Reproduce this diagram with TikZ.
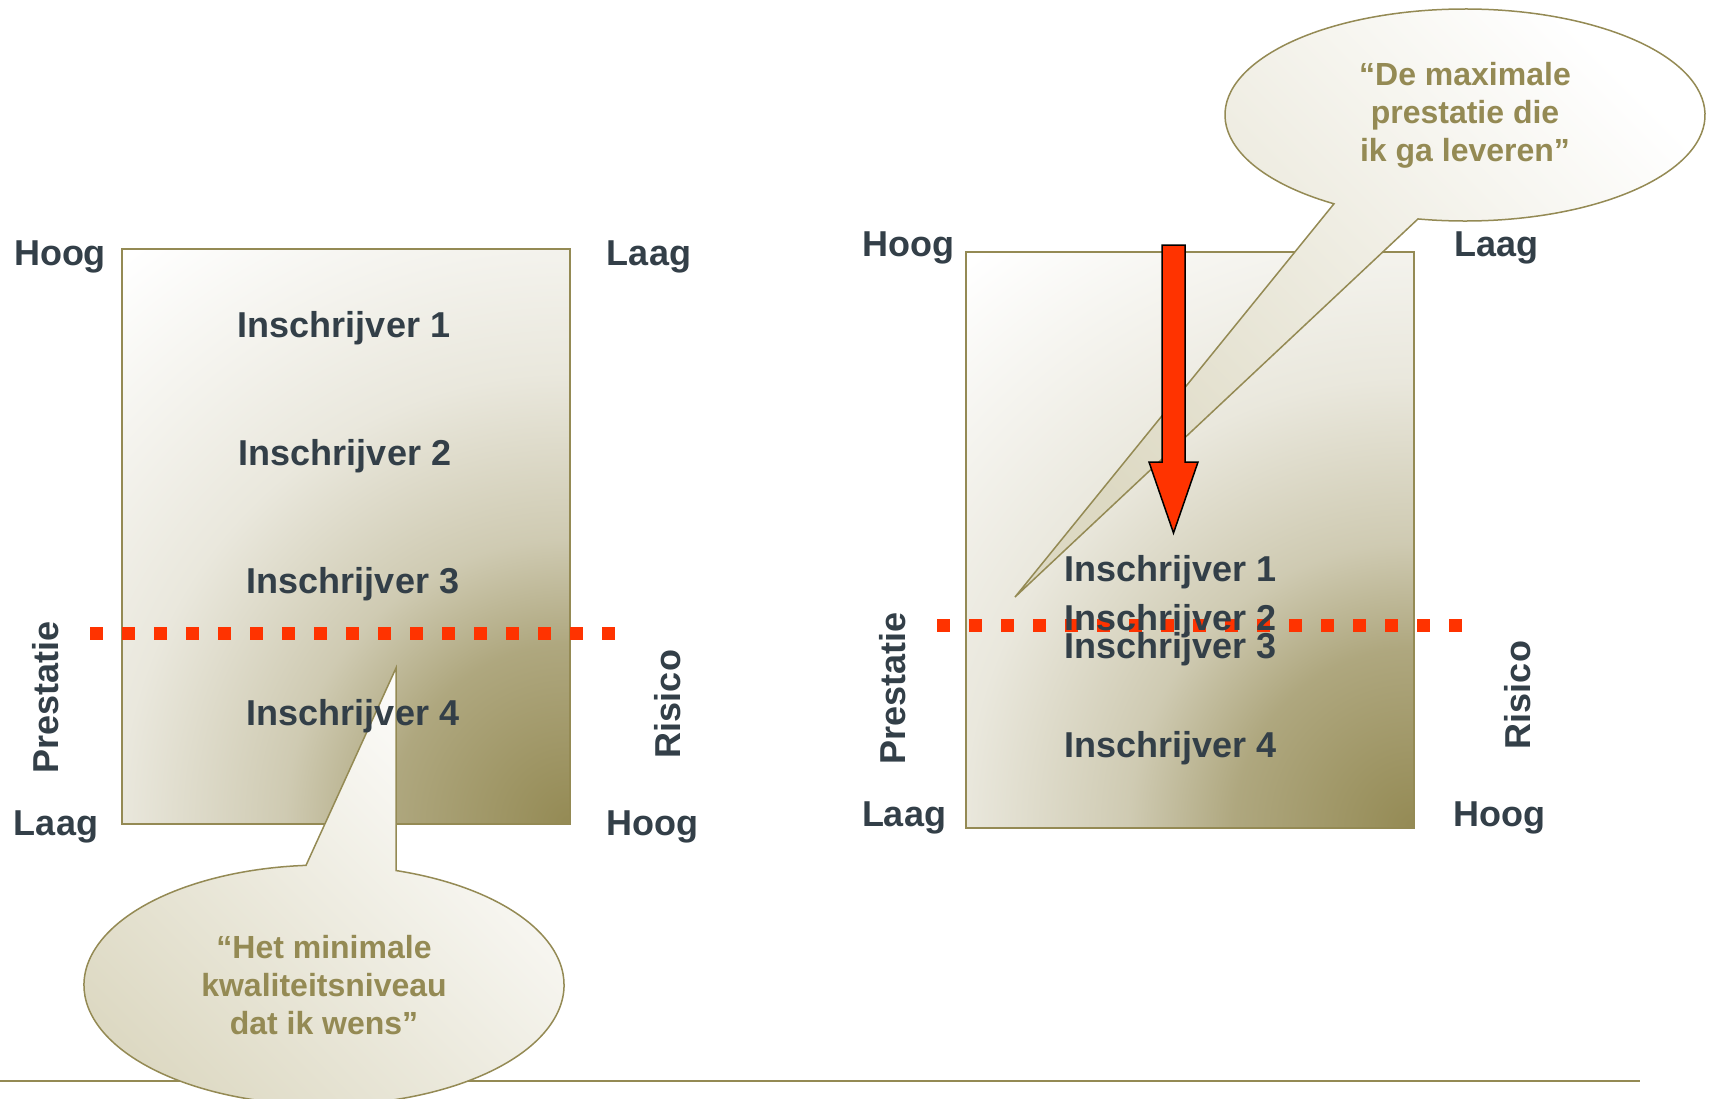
\documentclass[tikz,border=0pt]{standalone}
\usepackage{fontspec}
\setmainfont{Liberation Sans}
\usetikzlibrary{positioning,calc}
\definecolor{olivegold}{HTML}{948A54}
\definecolor{sandbeige}{HTML}{DDD9C3}
\definecolor{slatetext}{HTML}{333F48}
\definecolor{signalred}{HTML}{FF3300}

% glow from the lower right corner of a box
\pgfdeclareradialshading{cornerglow}{\pgfpoint{0bp}{0bp}}{%
  color(0bp)=(olivegold);
  color(6bp)=(olivegold!75!white);
  color(9.5bp)=(olivegold!45!white);
  color(15bp)=(olivegold!20!white);
  color(19bp)=(olivegold!11!white);
  color(24bp)=(white);
  color(50bp)=(white)}

\tikzset{
  bidder/.style={font=\fontsize{36}{43}\selectfont\bfseries, text=slatetext, inner sep=0pt},
  axistxt/.style={bidder, rotate=90},
  quote/.style={font=\fontsize{32}{38}\selectfont\bfseries, text=olivegold, align=center, inner sep=0pt},
  cutoff/.style={signalred, line width=13pt, dash pattern=on 13pt off 19pt},
  callout/.style={draw=olivegold, line width=1.5pt, top color=white, bottom color=sandbeige, shading angle=-45}
}

% shaded box, dark in the lower right corner
\newcommand{\riskbox}[2]{%
  \begin{scope}
    \clip (#1) rectangle (#2);
    \shade[shading=cornerglow] (#2) circle[radius=750pt];
  \end{scope}
  \draw[olivegold, line width=2pt] (#1) rectangle (#2);
}

\begin{document}
\begin{tikzpicture}[x=1pt,y=-1pt]
  \useasboundingbox (0,0) rectangle (1712,1098);

  % bottom rule
  \coordinate (ruleA) at (0,1081);
  \coordinate (ruleB) at (1640,1081);
  \draw[olivegold, line width=1.5pt] (ruleA) -- (ruleB);

  % ---------- left panel ----------
  \coordinate (boxLnw) at (122,249);
  \coordinate (boxLse) at (570,824);
  \riskbox{boxLnw}{boxLse}

  \coordinate (quoteL) at (324,985);
  \coordinate (tipL) at (396,668);
  \shadedraw[callout] (quoteL) ++(72.5:240pt and 120pt)
    arc[start angle=72.5, end angle=-265.7, x radius=240pt, y radius=120pt]
    -- (tipL) -- cycle;
  \node[quote] (wishL) at (quoteL) {“Het minimale\\kwaliteitsniveau\\dat ik wens”};

  \coordinate (cutLa) at (90,633);
  \coordinate (cutLb) at (617,633);
  \draw[cutoff] (cutLa) -- (cutLb);

  \node[bidder, anchor=base] (insL1) at (344,337) {Inschrijver 1};
  \node[bidder, anchor=base] (insL2) at (345,465) {Inschrijver 2};
  \node[bidder, anchor=base] (insL3) at (353,593) {Inschrijver 3};
  \node[bidder, anchor=base] (insL4) at (353,725) {Inschrijver 4};

  \node[bidder, anchor=base] (hoogLt) at (60,265) {Hoog};
  \node[bidder, anchor=base] (laagLt) at (649,265) {Laag};
  \node[bidder, anchor=base] (laagLb) at (56,835) {Laag};
  \node[bidder, anchor=base] (hoogLb) at (652,835) {Hoog};
  \node[axistxt] (prestL) at (46,697) {Prestatie};
  \node[axistxt] (risL) at (668,704) {Risico};

  % ---------- right panel ----------
  \coordinate (boxRnw) at (966,252);
  \coordinate (boxRse) at (1414,828);
  \riskbox{boxRnw}{boxRse}

  \coordinate (quoteR) at (1465,115);
  \coordinate (tipR) at (1015,597);
  \shadedraw[callout] (quoteR) ++(236.9:240pt and 106pt)
    arc[start angle=236.9, end angle=-101.3, x radius=240pt, y radius=106pt]
    -- (tipR) -- cycle;
  \node[quote] (maxR) at (quoteR) {“De maximale\\prestatie die\\ik ga leveren”};

  % downward arrow
  \filldraw[fill=signalred, draw=black, line width=1.5pt]
    (1162,245) -- (1185,245) -- (1185,462) -- (1198,462) -- (1173.5,533)
    -- (1149,462) -- (1162,462) -- cycle;

  \coordinate (cutRa) at (937,625);
  \coordinate (cutRb) at (1465,625);
  \draw[cutoff] (cutRa) -- (cutRb);

  \node[bidder, anchor=base west] (insR1) at (1064,581) {Inschrijver 1};
  \node[bidder, anchor=base west] (insR2) at (1064,630) {Inschrijver 2};
  \node[bidder, anchor=base west] (insR3) at (1064,658) {Inschrijver 3};
  \node[bidder, anchor=base west] (insR4) at (1064,757) {Inschrijver 4};

  \node[bidder, anchor=base] (hoogRt) at (908,256) {Hoog};
  \node[bidder, anchor=base] (laagRt) at (1496,256) {Laag};
  \node[bidder, anchor=base] (laagRb) at (904,826) {Laag};
  \node[bidder, anchor=base] (hoogRb) at (1499,826) {Hoog};
  \node[axistxt] (prestR) at (893,688) {Prestatie};
  \node[axistxt] (risR) at (1518,695) {Risico};
\end{tikzpicture}
\end{document}
